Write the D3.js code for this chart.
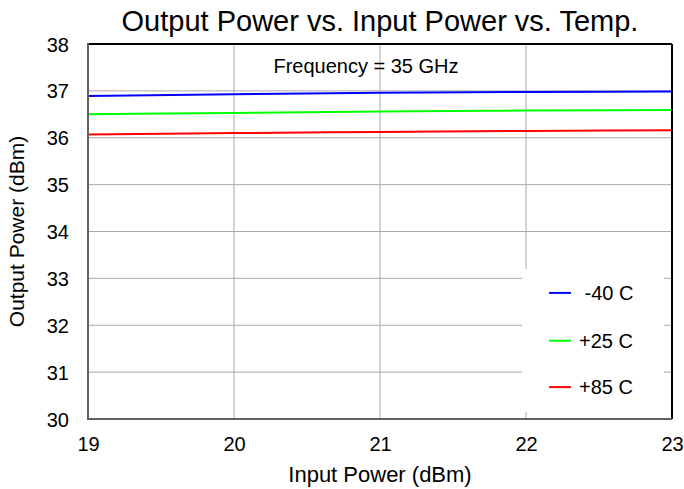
<!DOCTYPE html>
<html>
<head>
<meta charset="utf-8">
<script src="https://cdn.jsdelivr.net/npm/d3@7"></script>
<style>
  body { margin: 0; background: #fff; }
  text { font-family: "Liberation Sans", Arial, sans-serif; fill: #000; }
</style>
</head>
<body>
<div id="chart"></div>
<script>
const inputPower = [19, 20, 21, 22, 23];
const tempMinus40 = [36.89, 36.93, 36.96, 36.975, 36.985];
const tempPlus25 = [36.50, 36.53, 36.56, 36.58, 36.59];
const tempPlus85 = [36.07, 36.10, 36.125, 36.145, 36.16];
const seriesNames = [" -40 C", "+25 C", "+85 C"];
const seriesColors = ["#0000ff", "#00ff00", "#ff0000"];
const xTicks = [19, 20, 21, 22, 23];
const yTicks = [30, 31, 32, 33, 34, 35, 36, 37, 38];

const MARGIN = { left: 88, right: 12, top: 44, bottom: 70 };
const WIDTH = 684 - MARGIN.left - MARGIN.right;
const HEIGHT = 489 - MARGIN.top - MARGIN.bottom;

const svg = d3.select("#chart").append("svg")
  .attr("width", 684)
  .attr("height", 489);

const g = svg.append("g")
  .attr("transform", `translate(${MARGIN.left},${MARGIN.top})`);

const x = d3.scaleLinear().domain([19, 23]).range([0, WIDTH]);
const y = d3.scaleLinear().domain([30, 38]).range([HEIGHT, 0]);

// grid
g.append("g").selectAll("line").data(xTicks).join("line")
  .attr("x1", d => x(d)).attr("x2", d => x(d))
  .attr("y1", 0).attr("y2", HEIGHT)
  .attr("stroke", "#aaaaaa").attr("stroke-width", 1);
g.append("g").selectAll("line").data(yTicks).join("line")
  .attr("x1", 0).attr("x2", WIDTH)
  .attr("y1", d => y(d)).attr("y2", d => y(d))
  .attr("stroke", "#aaaaaa").attr("stroke-width", 1);

// series
const series = [tempMinus40, tempPlus25, tempPlus85];
const line = d3.line().x((d, i) => x(inputPower[i])).y(d => y(d)).curve(d3.curveMonotoneX);
series.forEach((s, i) => {
  g.append("path").datum(s)
    .attr("fill", "none")
    .attr("stroke", seriesColors[i])
    .attr("stroke-width", 2)
    .attr("d", line);
});

// frame
g.append("line").attr("x1", 0).attr("x2", WIDTH).attr("y1", 0).attr("y2", 0)
  .attr("stroke", "#000").attr("stroke-width", 2);
g.append("line").attr("x1", WIDTH).attr("x2", WIDTH).attr("y1", 0).attr("y2", HEIGHT)
  .attr("stroke", "#000").attr("stroke-width", 2);
g.append("line").attr("x1", 0).attr("x2", 0).attr("y1", -1).attr("y2", HEIGHT + 1)
  .attr("stroke", "#606060").attr("stroke-width", 2);
g.append("line").attr("x1", 0).attr("x2", WIDTH).attr("y1", HEIGHT).attr("y2", HEIGHT)
  .attr("stroke", "#606060").attr("stroke-width", 2);

// tick labels via d3 axes
const xAxis = d3.axisBottom(x).tickValues(xTicks).tickSize(0).tickPadding(18).tickFormat(d3.format("d"));
const yAxis = d3.axisLeft(y).tickValues(yTicks).tickSize(0).tickPadding(19).tickFormat(d3.format("d"));

const xAxisGroup = g.append("g").attr("transform", `translate(0,${HEIGHT})`).call(xAxis);
const yAxisGroup = g.append("g").call(yAxis);
[xAxisGroup, yAxisGroup].forEach(a => {
  a.select(".domain").remove();
  a.selectAll("text")
    .style("font-family", '"Liberation Sans", Arial, sans-serif')
    .style("font-size", "20px")
    .attr("fill", "#000");
});
yAxisGroup.selectAll("text").attr("dy", "0.35em").attr("x", -19);

// legend
const legend = g.append("g");
legend.append("rect")
  .attr("x", x(22) - 4).attr("y", y(33.2))
  .attr("width", WIDTH - x(22) - 4)
  .attr("height", y(30.15) - y(33.2))
  .attr("fill", "#fff");
const legendY = [32.69, 31.67, 30.68];
seriesNames.forEach((name, i) => {
  legend.append("line")
    .attr("x1", x(22.158)).attr("x2", x(22.308))
    .attr("y1", y(legendY[i])).attr("y2", y(legendY[i]))
    .attr("stroke", seriesColors[i]).attr("stroke-width", 2);
  legend.append("text")
    .attr("x", x(22.363)).attr("y", y(legendY[i]))
    .attr("dy", "0.36em")
    .style("font-size", "20px")
    .style("white-space", "pre")
    .attr("xml:space", "preserve")
    .text(name);
});

// annotation
g.append("text")
  .attr("x", x(21) - 14).attr("y", 29)
  .attr("text-anchor", "middle")
  .style("font-size", "20px")
  .text("Frequency = 35 GHz");

// title
svg.append("text")
  .attr("x", MARGIN.left + WIDTH / 2).attr("y", 31)
  .attr("text-anchor", "middle")
  .style("font-size", "29px")
  .text("Output Power vs. Input Power vs. Temp.");

// axis titles
svg.append("text")
  .attr("x", MARGIN.left + WIDTH / 2).attr("y", 482)
  .attr("text-anchor", "middle")
  .style("font-size", "22px")
  .text("Input Power (dBm)");

svg.append("text")
  .attr("transform", `translate(24,${MARGIN.top + HEIGHT / 2}) rotate(-90)`)
  .attr("text-anchor", "middle")
  .style("font-size", "21px")
  .text("Output Power (dBm)");
</script>
</body>
</html>
